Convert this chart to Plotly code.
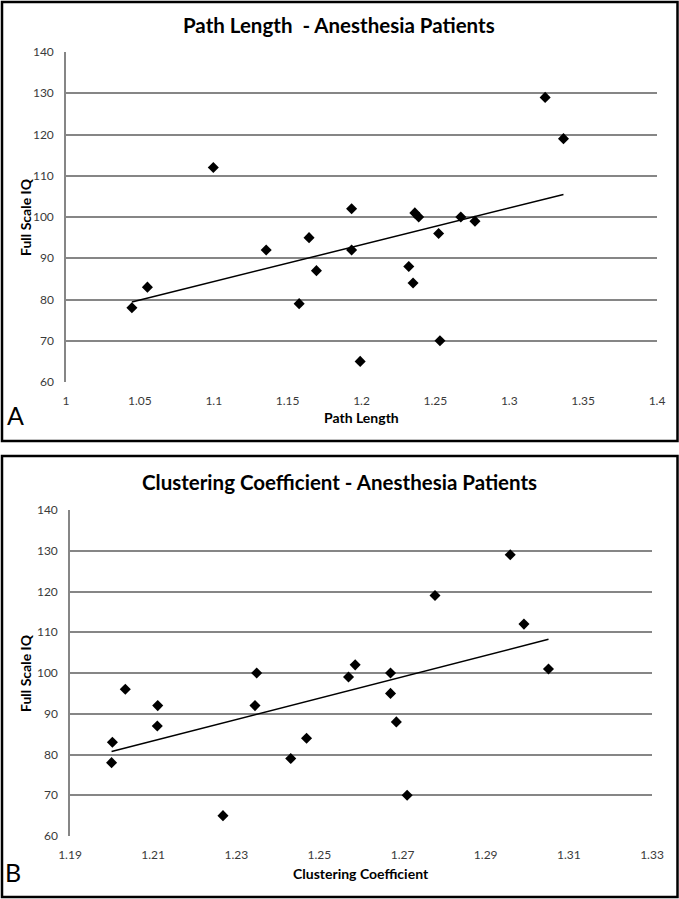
import numpy as np
import plotly.graph_objects as go

# ---- Data ----
path_length = [1.0446, 1.0551, 1.0997, 1.1355, 1.1578, 1.1645, 1.1695, 1.1933, 1.1933, 1.1991,
               1.2320, 1.2349, 1.2361, 1.2387, 1.2522, 1.2531, 1.2672, 1.2768, 1.3243, 1.3367]
iq_a = [78, 83, 112, 92, 79, 95, 87, 102, 92, 65,
        88, 84, 101, 100, 96, 70, 100, 99, 129, 119]

clustering = [1.2002, 1.2000, 1.2033, 1.2111, 1.2110, 1.2268, 1.2349, 1.2345, 1.2431, 1.2469,
              1.2570, 1.2586, 1.2671, 1.2671, 1.2685, 1.2711, 1.2778, 1.2959, 1.2992, 1.3051]
iq_b = [83, 78, 96, 92, 87, 65, 100, 92, 79, 84,
        99, 102, 100, 95, 88, 70, 119, 129, 112, 101]

y_ticks = [60, 70, 80, 90, 100, 110, 120, 130, 140]
x_ticks_a = [1, 1.05, 1.1, 1.15, 1.2, 1.25, 1.3, 1.35, 1.4]
x_ticks_b = [1.19, 1.21, 1.23, 1.25, 1.27, 1.29, 1.31, 1.33]

W, H = 679, 899
FONT = "Lato"
GRID = "#868686"
TICKC = "#3a3a3a"


def trend(x, y):
    x = np.asarray(x, float)
    y = np.asarray(y, float)
    m, b = np.polyfit(x, y, 1)
    xs = np.array([x.min(), x.max()])
    return xs, m * xs + b


fig = go.Figure()

fig.add_trace(go.Scatter(x=path_length, y=iq_a, mode="markers", xaxis="x", yaxis="y",
                         marker=dict(symbol="diamond", size=8.5, color="black"), showlegend=False))
tx, ty = trend(path_length, iq_a)
fig.add_trace(go.Scatter(x=tx, y=ty, mode="lines", xaxis="x", yaxis="y",
                         line=dict(color="black", width=1.5), showlegend=False))

fig.add_trace(go.Scatter(x=clustering, y=iq_b, mode="markers", xaxis="x2", yaxis="y2",
                         marker=dict(symbol="diamond", size=8.5, color="black"), showlegend=False))
tx2, ty2 = trend(clustering, iq_b)
fig.add_trace(go.Scatter(x=tx2, y=ty2, mode="lines", xaxis="x2", yaxis="y2",
                         line=dict(color="black", width=1.5), showlegend=False))


def px_x(p):
    return p / W


def px_y(p):
    return 1 - p / H


common_x = dict(showgrid=False, zeroline=False, showline=False, automargin=False,
                ticks="outside", ticklen=8, tickcolor="rgba(0,0,0,0)",
                tickfont=dict(family=FONT, size=12, color=TICKC))
common_y = dict(showgrid=True, gridcolor=GRID, gridwidth=1.5, zeroline=False, automargin=False,
                showline=True, linecolor=GRID, linewidth=1.5,
                ticks="outside", ticklen=8, tickcolor="rgba(0,0,0,0)",
                tickfont=dict(family=FONT, size=12, color=TICKC),
                range=[60, 140], tickvals=y_ticks)

fig.update_layout(
    width=W, height=H,
    margin=dict(l=0, r=0, t=0, b=0, pad=0, autoexpand=False),
    paper_bgcolor="white", plot_bgcolor="white",
    xaxis=dict(domain=[px_x(66), px_x(657)], anchor="y", range=[1, 1.4],
               tickvals=x_ticks_a, ticktext=[("%g" % v) for v in x_ticks_a], **common_x),
    yaxis=dict(domain=[px_y(382), px_y(52)], anchor="x", **common_y),
    xaxis2=dict(domain=[px_x(70), px_x(652)], anchor="y2", range=[1.19, 1.33],
                tickvals=x_ticks_b, ticktext=[("%g" % v) for v in x_ticks_b], **common_x),
    yaxis2=dict(domain=[px_y(836), px_y(510)], anchor="x2", **common_y),
)

# panel frames
fig.add_shape(type="rect", xref="paper", yref="paper",
              x0=px_x(2), x1=px_x(677.5), y0=px_y(441), y1=px_y(2),
              line=dict(color="black", width=2.5))
fig.add_shape(type="rect", xref="paper", yref="paper",
              x0=px_x(2), x1=px_x(677.5), y0=px_y(897), y1=px_y(456),
              line=dict(color="black", width=2.5))

ann = []


def text(x, y, s, size, bold=False, angle=0, color="black", xanchor="center"):
    ann.append(dict(x=px_x(x), y=px_y(y), xref="paper", yref="paper", text=("<b>%s</b>" % s) if bold else s,
                    showarrow=False, textangle=angle, xanchor=xanchor, yanchor="middle",
                    font=dict(family=FONT, size=size, color=color)))


text(339, 25, "Path Length &nbsp;- Anesthesia Patients", 20.5, bold=True)
text(361, 417, "Path Length", 14, bold=True)
text(25, 217, "Full Scale IQ", 14, bold=True, angle=-90)
text(15, 415, "A", 25)

text(339, 482, "Clustering Coefficient - Anesthesia Patients", 20.5, bold=True)
text(361, 873, "Clustering Coefficient", 14, bold=True)
text(25, 673, "Full Scale IQ", 14, bold=True, angle=-90)
text(13, 872, "B", 25)

fig.update_layout(annotations=ann)

fig.write_html("out.html", config={"displayModeBar": False},
               post_script="document.body.style.margin='0px';")
